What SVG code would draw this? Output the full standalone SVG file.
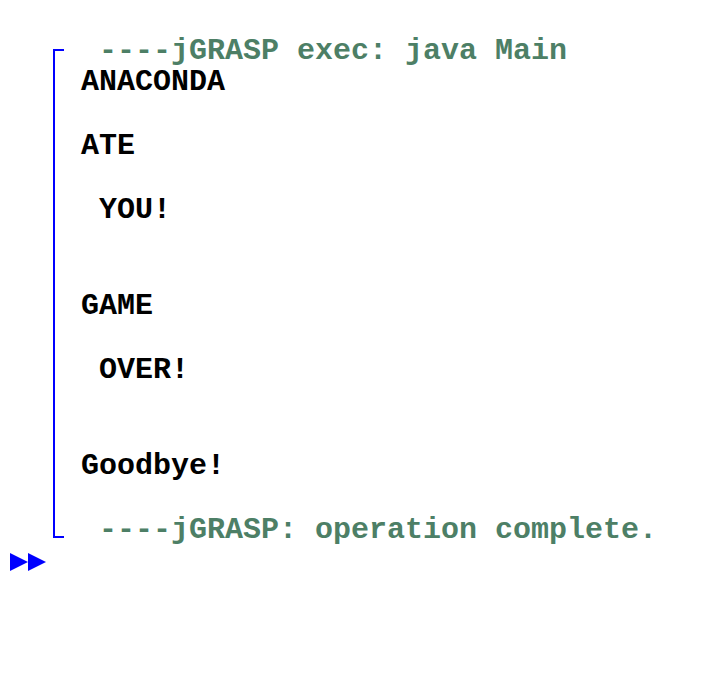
<svg xmlns="http://www.w3.org/2000/svg" width="706" height="678" viewBox="0 0 706 678">
<style>
.t{font-family:"Liberation Mono","Courier New",monospace;font-weight:bold;font-size:30px}
.out{fill:#000}
.sys{fill:#4d7f66}
.br{stroke:#0000ff;stroke-width:2;fill:none}
</style>
<rect width="706" height="678" fill="#fff"/>
<g id="bracket">
<path class="br" d="M64,50 H54 V537 H64"/>
</g>
<g id="prompt" fill="#0000ff">
<polygon points="10,553 28,562 10,571"/>
<polygon points="28,553 46,562 28,571"/>
</g>
<g id="header"><text class="t sys" x="99" y="58.5">----jGRASP exec: java Main</text></g>
<g id="output" class="t out">
<text x="81" y="90">ANACONDA</text>
<text x="81" y="154">ATE</text>
<text x="99" y="218">YOU!</text>
<text x="81" y="314">GAME</text>
<text x="99" y="378">OVER!</text>
<text x="81" y="474">Goodbye!</text>
</g>
<g id="footer"><text class="t sys" x="99" y="538">----jGRASP: operation complete.</text></g>
</svg>
